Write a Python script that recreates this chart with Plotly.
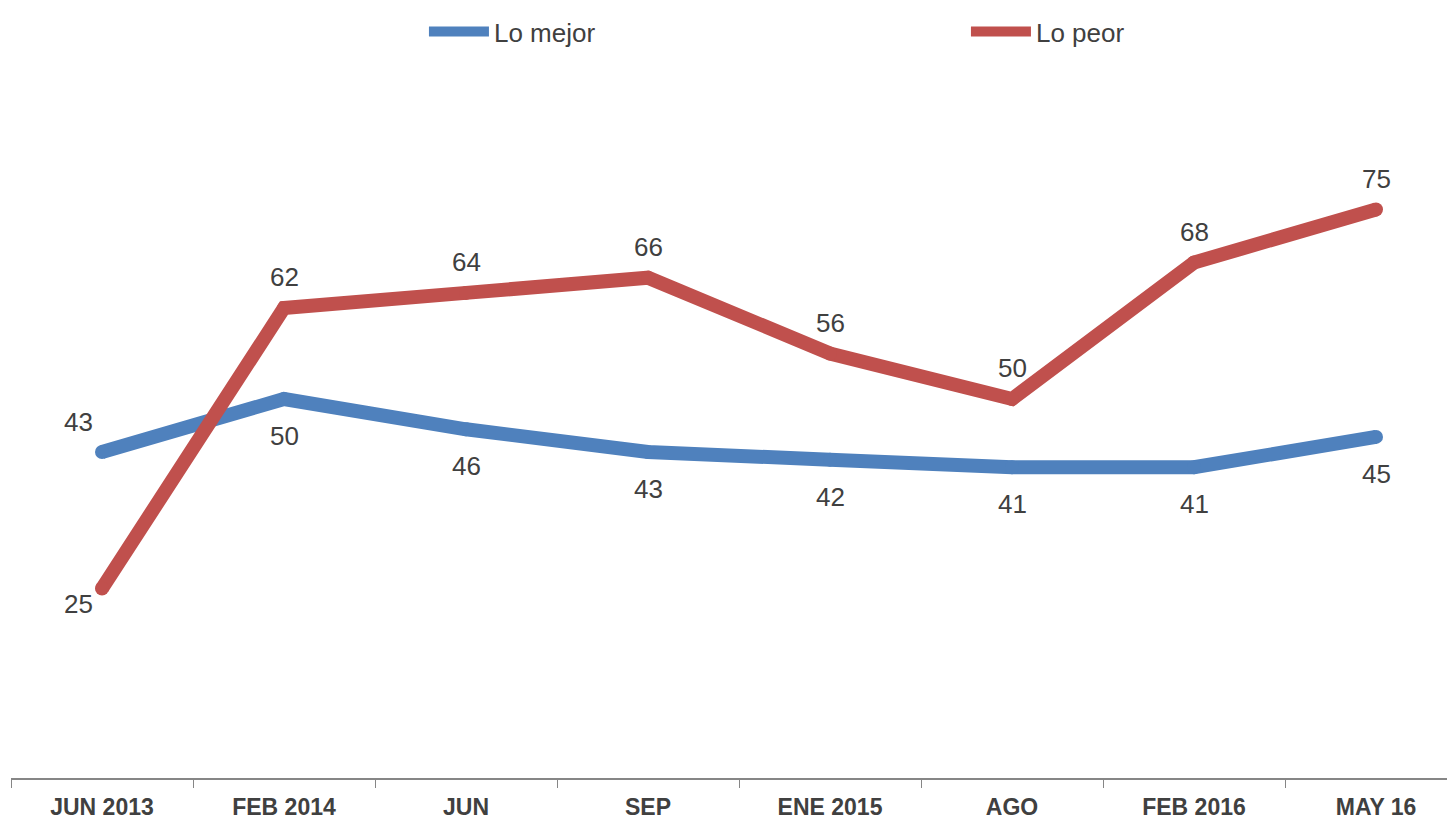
import plotly.graph_objects as go

categories = ["JUN 2013", "FEB 2014", "JUN", "SEP", "ENE 2015", "AGO", "FEB 2016", "MAY 16"]
lo_mejor = [43, 50, 46, 43, 42, 41, 41, 45]
lo_peor = [25, 62, 64, 66, 56, 50, 68, 75]

BLUE = "#4F81BD"
RED = "#C0504D"
TXT = "#404040"
FONT = "Liberation Sans, Arial, sans-serif"
LW = 14

fig = go.Figure()
for name, vals, col in [("Lo mejor", lo_mejor, BLUE), ("Lo peor", lo_peor, RED)]:
    fig.add_trace(go.Scatter(x=categories, y=vals, name=name, mode="lines",
                             line=dict(color=col, width=LW), hoverinfo="skip"))
    fig.add_trace(go.Scatter(x=categories, y=vals, mode="markers", showlegend=False,
                             marker=dict(color=col, size=LW, line=dict(width=0)),
                             hoverinfo="skip"))

ann = []
for i, (c, v) in enumerate(zip(categories, lo_mejor)):
    if i == 0:
        ann.append(dict(x=c, y=v, text=str(v), xshift=-24, yshift=30))
    else:
        ann.append(dict(x=c, y=v, text=str(v), yshift=-37))
for i, (c, v) in enumerate(zip(categories, lo_peor)):
    if i == 0:
        ann.append(dict(x=c, y=v, text=str(v), xshift=-24, yshift=-15))
    else:
        ann.append(dict(x=c, y=v, text=str(v), yshift=31))
for a in ann:
    a.update(xref="x", yref="y", showarrow=False, font=dict(family=FONT, size=26, color=TXT))
fig.update_layout(annotations=ann)

fig.update_layout(
    width=1455, height=821,
    margin=dict(l=3, r=0, t=12, b=51, autoexpand=False),
    paper_bgcolor="white", plot_bgcolor="white",
    font=dict(family=FONT, color=TXT),
    showlegend=True,
    legend=dict(orientation="h", x=0.2844, xanchor="left", y=1.0158, yanchor="top",
                font=dict(family=FONT, size=26, color=TXT), entrywidth=467,
                itemwidth=60, bgcolor="rgba(0,0,0,0)", borderwidth=0),
    xaxis=dict(type="category", range=[-0.5, 7.478], showgrid=False, zeroline=False,
               showline=True, linecolor="#868686", linewidth=1.5, automargin=False,
               ticks="outside", tickson="boundaries", ticklen=8, tickcolor="#868686",
               ticklabelstandoff=8,
               tickfont=dict(family=FONT, size=23, color=TXT, weight="bold")),
    yaxis=dict(range=[0, 100], visible=False, showgrid=False, zeroline=False, automargin=False),
)

fig.write_html("out.html")
